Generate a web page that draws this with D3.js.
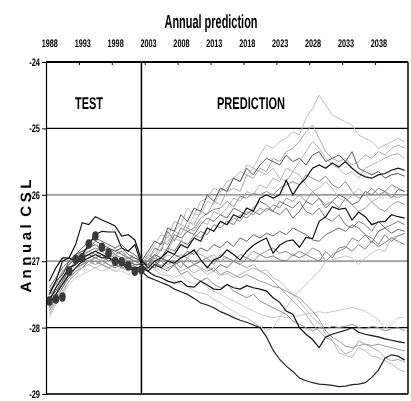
<!DOCTYPE html>
<html lang="en">
<head>
<meta charset="UTF-8">
<title>Annual prediction</title>
<script src="https://cdn.jsdelivr.net/npm/d3@7"></script>
<style>
  body { margin: 0; background: #fff; }
  svg { display: block; font-family: "Liberation Sans", Arial, sans-serif; font-weight: bold;
        will-change: transform; -webkit-font-smoothing: antialiased; }
  text { text-rendering: geometricPrecision; }
</style>
</head>
<body>
<svg width="411" height="401"></svg>
<script>
// categories
var years = d3.range(1988, 2043);
var labelYears = [1988, 1993, 1998, 2003, 2008, 2013, 2018, 2023, 2028, 2033, 2038];
var yTicks = [-29, -28, -27, -26, -25, -24];

// observed test values 1988-2002
var observed = [-27.60,-27.57,-27.54,-27.15,-26.97,-26.95,-26.74,-26.62,-26.79,-26.88,-27.00,-27.01,-27.07,-27.15,-27.13];

// simulated runs 1988-2042 (15 test years + 40 prediction years)
var run01 = [-27.55,-27.4,-27.2,-27.05,-26.95,-26.9,-26.8,-26.75,-26.8,-26.85,-26.8,-26.9,-26.95,-26.9,-27.0,
  -26.95,-26.85,-26.75,-26.7,-26.55,-26.45,-26.5,-26.3,-26.3,-26.1,
  -26.15,-25.95,-25.9,-25.75,-25.8,-25.55,-25.6,-25.4,-25.25,-25.3,
  -25.2,-25.15,-25.05,-25.1,-24.85,-24.7,-24.5,-24.65,-24.8,-24.85,
  -24.9,-24.95,-25.1,-25.15,-25.2,-25.3,-25.25,-25.2,-25.15,-25.2];
var run02 = [-27.7,-27.5,-27.35,-27.1,-27.0,-26.95,-26.85,-26.9,-26.85,-26.95,-26.9,-27.0,-27.0,-27.05,-27.05,
  -26.9,-26.95,-26.7,-26.75,-26.55,-26.6,-26.4,-26.45,-26.25,-26.3,
  -26.1,-26.15,-25.95,-25.9,-25.95,-25.7,-25.75,-25.6,-25.65,-25.45,
  -25.5,-25.35,-25.3,-25.2,-25.05,-24.95,-25.15,-25.35,-25.45,-25.5,
  -25.45,-25.55,-25.5,-25.4,-25.45,-25.35,-25.4,-25.3,-25.25,-25.3];
var run03 = [-27.3,-27.1,-26.95,-26.95,-26.75,-26.42,-26.45,-26.33,-26.38,-26.42,-26.47,-26.62,-26.6,-26.68,-26.98,
  -27.1,-27.0,-26.95,-26.85,-26.9,-26.75,-26.8,-26.65,-26.7,-26.5,
  -26.55,-26.4,-26.45,-26.3,-26.35,-26.2,-26.25,-26.05,-26.0,-26.05,
  -26.0,-25.78,-26.0,-25.85,-25.75,-25.6,-25.55,-25.6,-25.52,-25.58,
  -25.5,-25.6,-25.68,-25.73,-25.75,-25.7,-25.68,-25.63,-25.6,-25.63];
var run04 = [-27.5,-27.3,-27.2,-27.0,-26.9,-26.85,-26.8,-26.7,-26.75,-26.8,-26.85,-26.8,-26.9,-26.95,-27.0,
  -26.85,-26.7,-26.75,-26.5,-26.55,-26.3,-26.4,-26.2,-26.25,-26.0,
  -26.1,-25.9,-25.95,-25.75,-25.8,-25.6,-25.7,-25.55,-25.45,-25.5,
  -25.55,-25.4,-25.5,-25.45,-25.55,-25.4,-25.35,-25.5,-25.45,-25.4,
  -25.5,-25.35,-25.6,-25.65,-25.7,-25.65,-25.75,-25.7,-25.68,-25.72];
var run05 = [-27.65,-27.5,-27.3,-27.2,-27.1,-27.0,-26.95,-26.9,-26.95,-26.9,-26.95,-27.0,-26.95,-27.0,-27.05,
  -27.0,-26.8,-26.85,-26.55,-26.7,-26.5,-26.55,-26.5,-26.35,-26.28,
  -26.22,-26.2,-26.1,-26.18,-26.02,-26.05,-25.98,-26.0,-25.95,-26.0,
  -25.9,-25.85,-25.8,-25.85,-25.7,-25.75,-25.8,-25.72,-25.85,-25.9,
  -25.8,-25.95,-26.05,-26.0,-25.9,-26.0,-25.95,-25.85,-25.9,-25.95];
var run06 = [-27.8,-27.6,-27.45,-27.3,-27.15,-27.05,-27.0,-26.95,-26.9,-26.95,-27.0,-26.95,-27.0,-27.05,-27.05,
  -26.9,-26.75,-26.6,-26.65,-26.4,-26.45,-26.2,-26.3,-26.1,-26.05,
  -25.9,-25.95,-25.8,-25.75,-25.65,-25.7,-25.6,-25.65,-25.7,-25.6,
  -25.75,-25.8,-25.65,-25.7,-25.85,-25.95,-25.9,-25.8,-25.9,-26.05,
  -26.1,-26.0,-25.9,-26.0,-26.1,-26.05,-25.95,-26.0,-26.05,-26.0];
var run07 = [-27.75,-27.55,-27.4,-27.2,-27.1,-27.05,-27.0,-26.95,-27.0,-27.05,-27.1,-27.05,-27.1,-27.05,-27.05,
  -27.05,-26.95,-27.0,-26.85,-26.9,-26.7,-26.75,-26.6,-26.65,-26.5,
  -26.55,-26.4,-26.45,-26.35,-26.4,-26.25,-26.3,-26.2,-26.25,-26.15,
  -26.2,-26.05,-26.1,-26.0,-26.1,-25.95,-26.05,-26.15,-26.1,-26.2,
  -26.05,-26.15,-26.25,-26.2,-26.1,-26.2,-26.25,-26.15,-26.1,-26.15];
var run08 = [-27.5,-27.3,-27.0,-26.95,-27.0,-26.9,-26.75,-26.6,-26.55,-26.56,-26.56,-26.8,-26.85,-26.75,-27.05,
  -27.15,-27.05,-27.1,-27.0,-27.03,-26.95,-26.9,-26.83,-26.98,-27.1,
  -26.98,-26.94,-26.83,-26.9,-26.98,-26.85,-26.76,-26.7,-26.65,-26.88,
  -26.76,-26.7,-26.68,-26.79,-26.64,-26.66,-26.4,-26.33,-26.18,-26.22,
  -26.2,-26.38,-26.26,-26.33,-26.45,-26.41,-26.4,-26.3,-26.33,-26.35];
var run09 = [-27.45,-27.35,-27.15,-27.05,-26.95,-26.9,-26.85,-26.8,-26.85,-26.8,-26.9,-26.85,-26.95,-26.95,-27.0,
  -27.0,-26.9,-26.95,-26.8,-26.85,-26.7,-26.75,-26.65,-26.55,-26.6,
  -26.45,-26.5,-26.4,-26.45,-26.3,-26.35,-26.25,-26.3,-26.2,-26.25,
  -26.1,-26.15,-26.2,-26.1,-26.25,-26.3,-26.2,-26.35,-26.4,-26.3,
  -26.45,-26.5,-26.4,-26.45,-26.55,-26.4,-26.5,-26.45,-26.4,-26.45];
var run10 = [-27.55,-27.45,-27.3,-27.1,-27.05,-26.95,-26.9,-26.95,-26.9,-27.0,-26.95,-27.05,-27.0,-27.05,-27.05,
  -27.05,-27.1,-26.95,-27.0,-26.9,-26.95,-26.85,-26.9,-26.8,-26.85,
  -26.75,-26.8,-26.7,-26.78,-26.65,-26.7,-26.6,-26.65,-26.58,-26.62,
  -26.55,-26.6,-26.5,-26.55,-26.6,-26.68,-26.7,-26.6,-26.55,-26.5,
  -26.55,-26.45,-26.5,-26.6,-26.72,-26.55,-26.5,-26.58,-26.52,-26.55];
var run11 = [-27.7,-27.55,-27.4,-27.25,-27.15,-27.1,-27.0,-27.0,-27.05,-27.1,-27.05,-27.1,-27.1,-27.05,-27.05,
  -27.0,-27.05,-26.95,-27.05,-27.0,-27.1,-26.95,-27.05,-27.0,-26.95,
  -27.05,-26.9,-26.95,-27.0,-26.9,-26.95,-26.85,-26.9,-26.85,-26.8,
  -26.88,-26.85,-26.92,-26.85,-26.9,-26.8,-26.85,-27.0,-26.9,-26.85,
  -26.8,-26.65,-26.7,-26.6,-26.65,-26.75,-26.6,-26.7,-26.62,-26.58];
var run12 = [-27.85,-27.65,-27.5,-27.3,-27.2,-27.1,-27.05,-27.0,-27.05,-27.0,-27.05,-27.1,-27.1,-27.05,-27.1,
  -27.1,-27.12,-27.2,-27.22,-27.3,-27.35,-27.38,-27.45,-27.48,-27.5,
  -27.58,-27.62,-27.7,-27.75,-27.82,-27.85,-27.92,-27.98,-28.05,-28.0,
  -27.85,-27.7,-27.55,-27.45,-27.35,-27.25,-27.15,-27.0,-26.98,-26.95,
  -26.92,-26.95,-27.05,-26.95,-26.88,-26.82,-26.85,-26.65,-26.62,-26.58];
var run13 = [-27.6,-27.4,-27.25,-27.1,-27.05,-26.95,-26.9,-26.85,-26.9,-26.95,-27.0,-27.0,-27.1,-27.1,-27.1,
  -27.15,-27.22,-27.25,-27.3,-27.33,-27.3,-27.38,-27.39,-27.3,-27.36,
  -27.42,-27.43,-27.35,-27.4,-27.42,-27.37,-27.4,-27.42,-27.45,-27.55,
  -27.62,-27.75,-27.8,-28.0,-28.1,-28.18,-28.3,-28.14,-28.1,-28.07,
  -28.04,-28.0,-28.07,-28.1,-28.12,-28.14,-28.17,-28.19,-28.21,-28.23];
var run14 = [-27.65,-27.5,-27.35,-27.2,-27.1,-27.0,-26.95,-26.9,-26.95,-26.95,-27.0,-27.05,-27.1,-27.15,-27.15,
  -27.24,-27.28,-27.32,-27.36,-27.42,-27.46,-27.5,-27.56,-27.63,-27.66,
  -27.7,-27.76,-27.8,-27.85,-27.89,-27.92,-27.96,-28.0,-28.14,-28.34,
  -28.48,-28.58,-28.66,-28.76,-28.8,-28.83,-28.85,-28.86,-28.87,-28.89,
  -28.88,-28.86,-28.85,-28.83,-28.75,-28.64,-28.46,-28.41,-28.43,-28.49];
var run15 = [-27.75,-27.6,-27.45,-27.3,-27.2,-27.1,-27.05,-27.1,-27.05,-27.1,-27.15,-27.1,-27.15,-27.1,-27.1,
  -27.05,-27.1,-27.05,-27.12,-27.08,-27.15,-27.1,-27.18,-27.12,-27.2,
  -27.15,-27.22,-27.18,-27.25,-27.2,-27.15,-27.1,-27.15,-27.13,-27.25,
  -27.3,-27.4,-27.5,-27.6,-27.73,-27.85,-27.93,-28.1,-28.19,-28.38,
  -28.42,-28.45,-28.3,-28.35,-28.43,-28.45,-28.5,-28.55,-28.62,-28.67];
var run16 = [-27.5,-27.4,-27.25,-27.15,-27.0,-26.95,-26.9,-26.85,-26.8,-26.85,-26.9,-26.95,-27.0,-27.0,-27.05,
  -27.0,-27.05,-27.0,-27.1,-27.05,-27.0,-27.1,-27.05,-27.1,-27.15,
  -27.1,-27.2,-27.15,-27.2,-27.25,-27.2,-27.25,-27.3,-27.33,-27.38,
  -27.4,-27.45,-27.5,-27.55,-27.65,-27.75,-27.88,-28.05,-28.15,-28.2,
  -28.28,-28.3,-28.27,-28.25,-28.27,-28.25,-28.28,-28.3,-28.33,-28.35];
var run17 = [-27.8,-27.65,-27.5,-27.35,-27.25,-27.2,-27.15,-27.1,-27.15,-27.1,-27.15,-27.15,-27.2,-27.15,-27.1,
  -27.05,-27.1,-27.15,-27.2,-27.25,-27.2,-27.3,-27.35,-27.3,-27.4,
  -27.45,-27.5,-27.55,-27.6,-27.65,-27.7,-27.75,-27.8,-27.83,-27.85,
  -27.83,-27.85,-27.83,-27.82,-27.8,-27.78,-27.76,-27.78,-27.76,-27.74,
  -27.72,-27.7,-27.72,-27.75,-27.82,-27.88,-28.02,-27.95,-27.85,-27.85];
var run18 = [-27.55,-27.45,-27.35,-27.2,-27.1,-27.05,-27.0,-27.05,-27.0,-27.05,-27.1,-27.05,-27.1,-27.1,-27.1,
  -27.1,-27.0,-27.1,-27.15,-27.05,-27.2,-27.15,-27.25,-27.3,-27.25,
  -27.35,-27.4,-27.35,-27.45,-27.5,-27.55,-27.5,-27.6,-27.65,-27.7,
  -27.75,-27.8,-27.9,-27.95,-28.0,-28.05,-28.0,-28.02,-27.98,-28.0,
  -27.98,-27.95,-28.0,-28.02,-27.98,-28.0,-28.05,-28.02,-28.0,-28.05];
var run19 = [-27.6,-27.5,-27.35,-27.25,-27.1,-27.05,-27.0,-26.95,-27.0,-26.95,-27.0,-27.05,-27.05,-27.0,-27.05,
  -27.0,-26.95,-27.0,-26.9,-26.95,-26.9,-26.95,-26.85,-26.9,-26.95,
  -26.9,-27.0,-26.95,-27.0,-27.05,-27.1,-27.05,-27.15,-27.2,-27.3,
  -27.4,-27.5,-27.6,-27.7,-27.8,-27.95,-28.05,-28.15,-28.2,-28.3,
  -28.4,-28.35,-28.2,-28.25,-28.3,-28.35,-28.45,-28.5,-28.48,-28.52];
var run20 = [-27.45,-27.3,-27.2,-27.05,-26.95,-26.85,-26.8,-26.75,-26.85,-26.8,-26.85,-26.9,-26.95,-27.0,-27.0,
  -27.05,-27.0,-27.08,-26.98,-27.05,-27.0,-27.1,-27.05,-27.0,-27.08,
  -27.15,-27.05,-27.1,-27.0,-27.05,-26.95,-27.0,-26.9,-26.95,-26.92,
  -26.98,-27.0,-26.9,-26.95,-26.9,-26.95,-27.0,-26.85,-26.95,-26.8,
  -26.78,-26.85,-26.75,-26.82,-26.7,-26.78,-26.72,-26.65,-26.7,-26.75];
var run21 = [-27.65,-27.45,-27.3,-27.15,-27.05,-26.95,-26.9,-26.85,-26.8,-26.85,-26.9,-26.95,-26.95,-27.0,-27.0,
  -26.95,-27.0,-26.8,-26.85,-26.65,-26.7,-26.5,-26.55,-26.4,-26.45,
  -26.25,-26.3,-26.2,-26.05,-26.1,-25.95,-26.0,-25.85,-25.9,-25.75,
  -25.8,-25.6,-25.65,-25.5,-25.35,-25.2,-25.3,-25.45,-25.55,-25.6,
  -25.7,-25.65,-25.75,-25.6,-25.55,-25.5,-25.45,-25.4,-25.38,-25.45];
var run22 = [-27.4,-27.25,-27.1,-27.0,-26.9,-26.8,-26.7,-26.65,-26.7,-26.75,-26.8,-26.75,-26.85,-26.9,-27.0,
  -27.05,-26.9,-26.95,-26.8,-26.6,-26.65,-26.55,-26.6,-26.45,-26.35,
  -26.4,-26.3,-26.35,-26.2,-26.25,-26.3,-26.2,-26.1,-26.15,-26.25,
  -26.3,-26.2,-26.35,-26.25,-26.1,-26.15,-26.05,-26.2,-26.1,-26.0,
  -26.05,-26.15,-26.1,-25.95,-26.0,-25.9,-25.95,-26.05,-25.92,-25.95];

var runs = [run01, run02, run03, run04, run05, run06, run07, run08, run09, run10, run11,
            run12, run13, run14, run15, run16, run17, run18, run19, run20, run21, run22];
var runColors = ["#bdbdbd", "#a9a9a9", "#111111", "#555555", "#8c8c8c", "#b5b5b5", "#9a9a9a",
                 "#111111", "#7a7a7a", "#666666", "#8a8a8a", "#c4c4c4", "#111111", "#222222",
                 "#bababa", "#999999", "#cccccc", "#909090", "#a8a8a8", "#808080", "#b4b4b4", "#6e6e6e"];

var svg = d3.select("svg");
var plotL = 46, plotR = 408, plotT = 62, plotB = 394;

var x = d3.scaleLinear().domain([1987.5, 2042.5]).range([plotL, plotR]);
var y = d3.scaleLinear().domain([-29, -24]).range([plotB, plotT]);

// squeeze text horizontally like the source picture (scaled about the tick origin)
function squeeze(sel, k) {
    sel.each(function() {
        var t = d3.select(this);
        var x0 = +t.attr("x") || 0;
        t.attr("x", x0 / k).attr("transform", "scale(" + k + ",1)");
    });
}

// grid lines
var gridColor = {"-25": "#000", "-26": "#777", "-27": "#777", "-28": "#000"};
svg.append("g")
    .selectAll("line")
    .data([-25, -26, -27, -28])
    .enter().append("line")
    .attr("x1", plotL).attr("x2", plotR)
    .attr("y1", function(d) { return y(d); })
    .attr("y2", function(d) { return y(d); })
    .attr("stroke", function(d) { return gridColor[d]; })
    .attr("stroke-width", 1.2);

// runs, light ones first
var order = d3.range(runs.length).sort(function(a, b) {
    return d3.hsl(runColors[b]).l - d3.hsl(runColors[a]).l;
});
var line = d3.line()
    .x(function(d, i) { return x(years[i]); })
    .y(function(d) { return y(d); });

svg.append("g")
    .attr("fill", "none")
    .selectAll("path")
    .data(order)
    .enter().append("path")
    .attr("d", function(k) { return line(runs[k]); })
    .attr("stroke", function(k) { return runColors[k]; })
    .attr("stroke-width", function(k) { return d3.hsl(runColors[k]).l < 0.2 ? 1.2 : 1; })
    .attr("stroke-linejoin", "miter");

// split between test and prediction
svg.append("line")
    .attr("x1", x(2002)).attr("x2", x(2002))
    .attr("y1", plotT).attr("y2", plotB)
    .attr("stroke", "#000").attr("stroke-width", 1.5);

// observed points
svg.append("g")
    .selectAll("ellipse")
    .data(observed)
    .enter().append("ellipse")
    .attr("cx", function(d, i) { return x(years[i]); })
    .attr("cy", function(d) { return y(d); })
    .attr("rx", 3.3)
    .attr("ry", 4.8)
    .attr("fill", "#3a3a3a");

// frame
svg.append("line").attr("x1", plotL).attr("x2", plotR).attr("y1", plotT).attr("y2", plotT)
    .attr("stroke", "#000").attr("stroke-width", 2);
svg.append("line").attr("x1", plotL).attr("x2", plotR).attr("y1", plotB).attr("y2", plotB)
    .attr("stroke", "#333").attr("stroke-width", 2);
svg.append("line").attr("x1", plotR).attr("x2", plotR).attr("y1", plotT).attr("y2", plotB)
    .attr("stroke", "#000").attr("stroke-width", 1.5);

// top axis: labels at years, marks between categories
var topLabels = svg.append("g")
    .attr("transform", "translate(0," + plotT + ")")
    .call(d3.axisTop(x).tickValues(labelYears).tickSize(0).tickPadding(15)
        .tickFormat(function(d) { return String(d); }));
topLabels.select(".domain").remove();
topLabels.selectAll("text")
    .attr("font-family", null).attr("font-size", 11).attr("fill", "#000");
squeeze(topLabels.selectAll("text"), 0.66);

var topMarks = svg.append("g")
    .attr("transform", "translate(0," + plotT + ")")
    .call(d3.axisTop(x).tickValues(labelYears.slice(1).map(function(d) { return d - 0.5; }))
        .tickSizeInner(-3).tickSizeOuter(0).tickFormat(""));
topMarks.select(".domain").remove();
topMarks.selectAll("line").attr("stroke", "#000");

// left axis
var yAxis = svg.append("g")
    .attr("transform", "translate(" + plotL + ",0)")
    .call(d3.axisLeft(y).tickValues(yTicks).tickSize(4).tickPadding(2)
        .tickFormat(function(d) { return String(d); }));
yAxis.select(".domain").attr("stroke", "#000").attr("stroke-width", 1.2);
yAxis.selectAll("line").attr("stroke", "#000");
yAxis.selectAll("text")
    .attr("font-family", null).attr("font-size", 11).attr("fill", "#000");
squeeze(yAxis.selectAll("text"), 0.68);

// titles
svg.append("text")
    .attr("x", 211).attr("y", 28)
    .attr("text-anchor", "middle")
    .attr("font-size", 19)
    .attr("textLength", 93).attr("lengthAdjust", "spacingAndGlyphs")
    .text("Annual prediction");

svg.append("text")
    .attr("x", 89).attr("y", 109)
    .attr("text-anchor", "middle")
    .attr("font-size", 17)
    .attr("textLength", 28).attr("lengthAdjust", "spacingAndGlyphs")
    .text("TEST");

svg.append("text")
    .attr("x", 251).attr("y", 109)
    .attr("text-anchor", "middle")
    .attr("font-size", 17)
    .attr("textLength", 68).attr("lengthAdjust", "spacingAndGlyphs")
    .text("PREDICTION");

svg.append("text")
    .attr("transform", "translate(31,236) rotate(-90)")
    .attr("text-anchor", "middle")
    .attr("font-size", 15)
    .style("white-space", "pre")
    .attr("textLength", 113).attr("lengthAdjust", "spacing")
    .text("A n n u a l  C S L");
</script>
</body>
</html>
